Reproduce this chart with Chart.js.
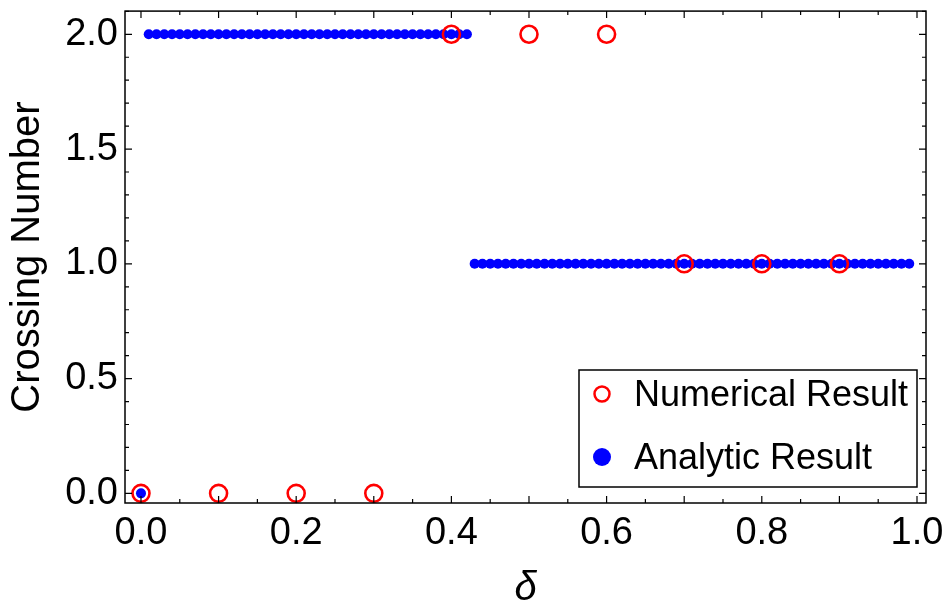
<!DOCTYPE html>
<html>
<head>
<meta charset="utf-8">
<script src="https://cdn.jsdelivr.net/npm/chart.js@4"></script>
<style>
  html, body { margin: 0; padding: 0; background: #fff; }
  #wrap { width: 949px; height: 610px; }
</style>
</head>
<body>
<div id="wrap"><canvas id="chart"></canvas></div>
<script>
// data
const numericalX = [0.0, 0.1, 0.2, 0.3, 0.4, 0.5, 0.6, 0.7, 0.8, 0.9];
const numericalY = [0, 0, 0, 0, 2, 2, 2, 1, 1, 1];

const analyticX = [
  0.00,
  0.01, 0.02, 0.03, 0.04, 0.05, 0.06, 0.07, 0.08, 0.09, 0.10,
  0.11, 0.12, 0.13, 0.14, 0.15, 0.16, 0.17, 0.18, 0.19, 0.20,
  0.21, 0.22, 0.23, 0.24, 0.25, 0.26, 0.27, 0.28, 0.29, 0.30,
  0.31, 0.32, 0.33, 0.34, 0.35, 0.36, 0.37, 0.38, 0.39, 0.40,
  0.41, 0.42,
  0.43, 0.44, 0.45, 0.46, 0.47, 0.48, 0.49, 0.50,
  0.51, 0.52, 0.53, 0.54, 0.55, 0.56, 0.57, 0.58, 0.59, 0.60,
  0.61, 0.62, 0.63, 0.64, 0.65, 0.66, 0.67, 0.68, 0.69, 0.70,
  0.71, 0.72, 0.73, 0.74, 0.75, 0.76, 0.77, 0.78, 0.79, 0.80,
  0.81, 0.82, 0.83, 0.84, 0.85, 0.86, 0.87, 0.88, 0.89, 0.90,
  0.91, 0.92, 0.93, 0.94, 0.95, 0.96, 0.97, 0.98, 0.99
];
const analyticY = [
  0,
  2, 2, 2, 2, 2, 2, 2, 2, 2, 2,
  2, 2, 2, 2, 2, 2, 2, 2, 2, 2,
  2, 2, 2, 2, 2, 2, 2, 2, 2, 2,
  2, 2, 2, 2, 2, 2, 2, 2, 2, 2,
  2, 2,
  1, 1, 1, 1, 1, 1, 1, 1,
  1, 1, 1, 1, 1, 1, 1, 1, 1, 1,
  1, 1, 1, 1, 1, 1, 1, 1, 1, 1,
  1, 1, 1, 1, 1, 1, 1, 1, 1, 1,
  1, 1, 1, 1, 1, 1, 1, 1, 1, 1,
  1, 1, 1, 1, 1, 1, 1, 1, 1
];

const xTickLabels = ['0.0', '0.2', '0.4', '0.6', '0.8', '1.0'];
const yTickLabels = ['0.0', '0.5', '1.0', '1.5', '2.0'];

const FONT = '"Liberation Sans", Arial, sans-serif';

const toPoints = (xs, ys) => xs.map((x, i) => ({ x: x, y: ys[i] }));

// Mathematica-like frame with inward ticks on all four sides
const framePlugin = {
  id: 'frame',
  afterDatasetsDraw(chart) {
    const { ctx, chartArea: a, scales } = chart;
    const xs = scales.x, ys = scales.y;
    ctx.save();
    ctx.strokeStyle = '#000';
    ctx.lineWidth = 1.5;
    ctx.strokeRect(a.left, a.top, a.right - a.left, a.bottom - a.top);
    ctx.lineWidth = 1.2;
    ctx.beginPath();
    for (let i = 0; i <= 20; i++) {
      const px = xs.getPixelForValue(i * 0.05);
      const len = (i % 2 === 0) ? 7 : 4;
      ctx.moveTo(px, a.bottom); ctx.lineTo(px, a.bottom - len);
      ctx.moveTo(px, a.top); ctx.lineTo(px, a.top + len);
    }
    for (let i = 0; i <= 21; i++) {
      const py = ys.getPixelForValue(i * 0.1);
      const len = (i % 5 === 0) ? 7 : 4;
      ctx.moveTo(a.left, py); ctx.lineTo(a.left + len, py);
      ctx.moveTo(a.right, py); ctx.lineTo(a.right - len, py);
    }
    ctx.stroke();
    ctx.restore();
  }
};

// legend box inside the plot, bottom right
const legendPlugin = {
  id: 'boxLegend',
  afterDraw(chart) {
    const { ctx, chartArea: a } = chart;
    const w = 338, h = 117;
    const x0 = a.right - 9 - w, y0 = a.bottom - 16 - h;
    ctx.save();
    ctx.fillStyle = '#fff';
    ctx.fillRect(x0, y0, w, h);
    ctx.strokeStyle = '#000';
    ctx.lineWidth = 1.5;
    ctx.strokeRect(x0, y0, w, h);
    ctx.font = '36px ' + FONT;
    ctx.textBaseline = 'middle';
    chart.data.datasets.forEach((ds, i) => {
      const cy = y0 + 24 + i * 63;
      const cx = x0 + 23;
      ctx.beginPath();
      if (ds.backgroundColor === 'transparent') {
        ctx.arc(cx, cy, 7.5, 0, Math.PI * 2);
        ctx.strokeStyle = ds.borderColor;
        ctx.lineWidth = 2.5;
        ctx.stroke();
      } else {
        ctx.arc(cx, cy, 9, 0, Math.PI * 2);
        ctx.fillStyle = ds.backgroundColor;
        ctx.fill();
      }
      ctx.fillStyle = '#000';
      ctx.fillText(ds.label, x0 + 55, cy + 2);
    });
    ctx.restore();
  }
};

new Chart(document.getElementById('chart'), {
  type: 'scatter',
  data: {
    datasets: [
      {
        label: 'Numerical Result',
        data: toPoints(numericalX, numericalY),
        backgroundColor: 'transparent',
        borderColor: '#ff0000',
        borderWidth: 2.6,
        pointRadius: 8.5,
        pointHoverRadius: 8.5,
        order: 0,
        clip: false
      },
      {
        label: 'Analytic Result',
        data: toPoints(analyticX, analyticY),
        backgroundColor: '#0000ff',
        borderWidth: 0,
        pointRadius: 5,
        pointHoverRadius: 5,
        order: 1,
        clip: false
      }
    ]
  },
  options: {
    responsive: true,
    maintainAspectRatio: false,
    animation: false,
    events: [],
    layout: { padding: { top: 10, right: 23, left: 0, bottom: 0 } },
    plugins: {
      legend: { display: false },
      tooltip: { enabled: false }
    },
    scales: {
      x: {
        type: 'linear',
        min: -0.0206,
        max: 1.0116,
        afterFit(s) { s.height = 107; s.paddingLeft = 0; s.paddingRight = 0; },
        afterBuildTicks(s) {
          s.ticks = xTickLabels.map(t => ({ value: parseFloat(t) }));
        },
        grid: { display: false, drawTicks: false },
        border: { display: false },
        ticks: {
          padding: 8,
          color: '#000',
          font: { family: FONT, size: 38 },
          callback: (v) => xTickLabels.find(t => Math.abs(parseFloat(t) - v) < 1e-9)
        },
        title: {
          display: true,
          text: 'δ',
          color: '#000',
          font: { family: FONT, size: 40, style: 'italic' },
          padding: { top: 0, bottom: -3 }
        }
      },
      y: {
        type: 'linear',
        min: -0.042,
        max: 2.101,
        afterFit(s) { s.width = 125; s.paddingTop = 0; s.paddingBottom = 0; },
        afterBuildTicks(s) {
          s.ticks = yTickLabels.map(t => ({ value: parseFloat(t) }));
        },
        grid: { display: false, drawTicks: false },
        border: { display: false },
        ticks: {
          padding: 7,
          color: '#000',
          font: { family: FONT, size: 38 },
          callback: (v) => yTickLabels.find(t => Math.abs(parseFloat(t) - v) < 1e-9)
        },
        title: {
          display: true,
          text: 'Crossing Number',
          color: '#000',
          font: { family: FONT, size: 40 },
          padding: { top: 4, bottom: 0 }
        }
      }
    }
  },
  plugins: [framePlugin, legendPlugin]
});
</script>
</body>
</html>
